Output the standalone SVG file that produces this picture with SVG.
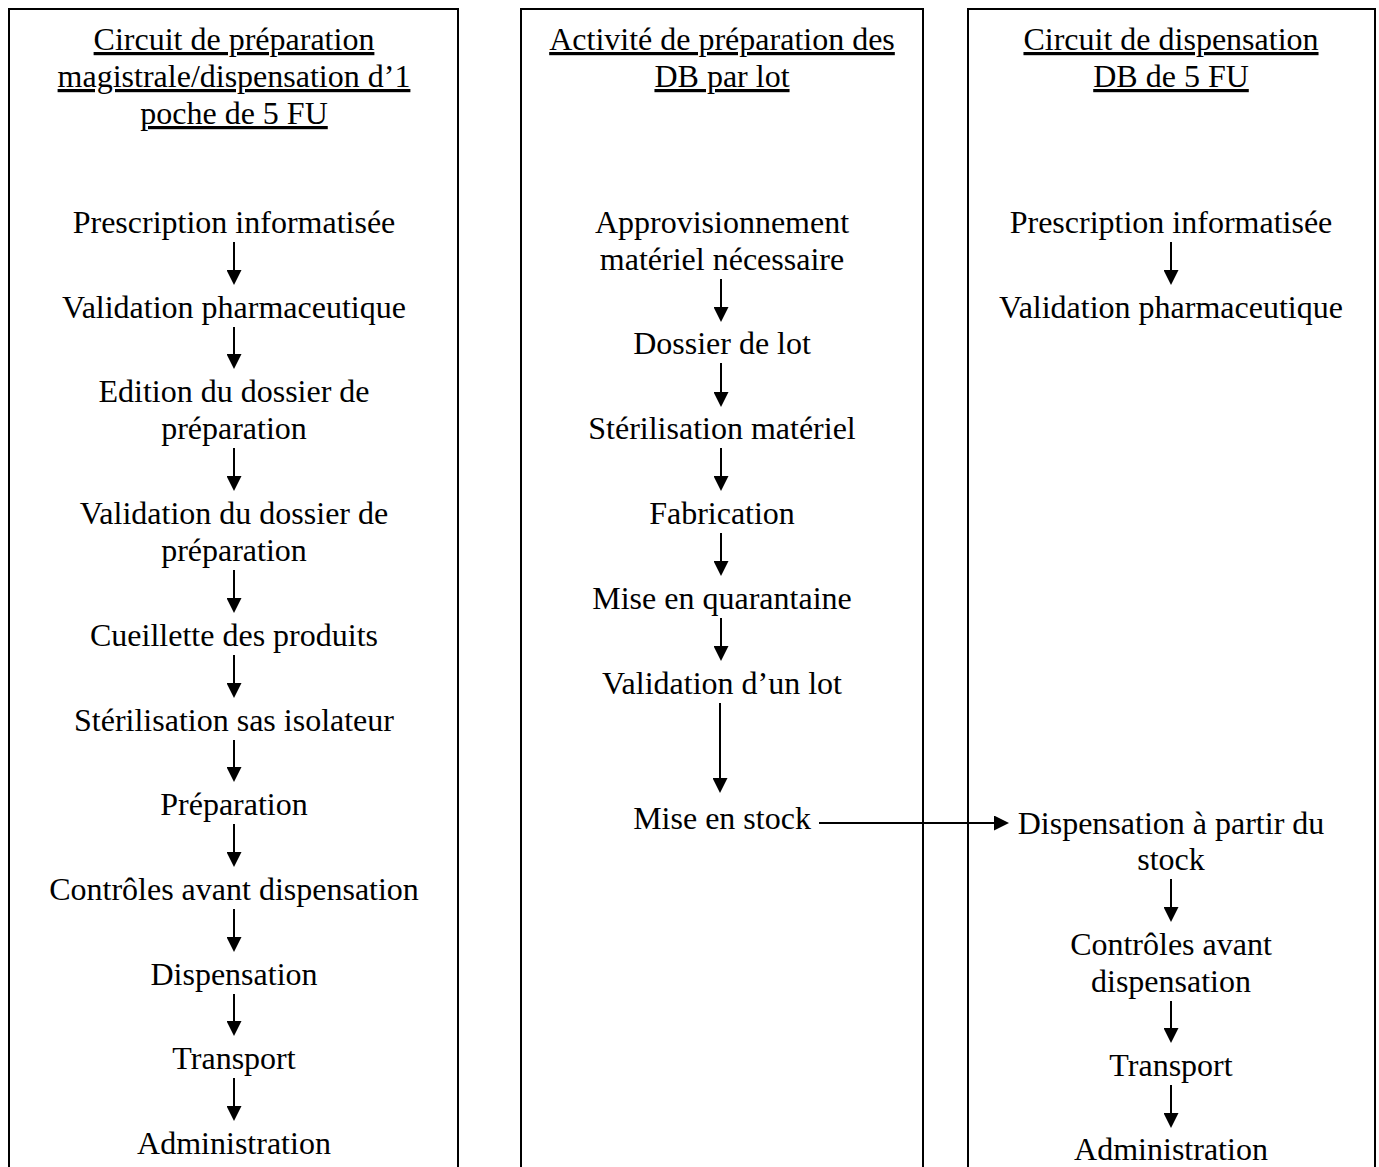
<svg xmlns="http://www.w3.org/2000/svg" width="1379" height="1167" viewBox="0 0 1379 1167">
<style>
text{font-family:"Liberation Serif","Times New Roman",serif;font-size:32px;fill:#000;text-anchor:middle}
.h{text-decoration:underline;text-underline-offset:6px;text-decoration-thickness:2px}
.box{fill:none;stroke:#000;stroke-width:2}
.c line{stroke:#000;stroke-width:2}
</style>
<defs>
<marker id="ah" markerUnits="userSpaceOnUse" viewBox="0 0 15 15" markerWidth="15" markerHeight="15" refX="10" refY="7.5" orient="auto">
<path d="M0,0 L15,7.5 L0,15 z" fill="#000"/>
</marker>
</defs>
<rect width="1379" height="1167" fill="#fff"/>
<g id="col1">
<path class="box" d="M9,1168 V9 H458 V1168"/>
<text class="h" x="234" y="50">Circuit de préparation</text>
<text class="h" x="234" y="87">magistrale/dispensation d’1</text>
<text class="h" x="234" y="124">poche de 5 FU</text>
</g>
<g id="col2">
<path class="box" d="M521,1168 V9 H923 V1168"/>
<text class="h" x="722" y="50">Activité de préparation des</text>
<text class="h" x="722" y="87">DB par lot</text>
</g>
<g id="col3">
<path class="box" d="M968,1168 V9 H1375 V1168"/>
<text class="h" x="1171" y="50">Circuit de dispensation</text>
<text class="h" x="1171" y="87">DB de 5 FU</text>
</g>
<g id="n1a"><text x="234" y="233">Prescription informatisée</text></g>
<g id="n1b"><text x="234" y="318">Validation pharmaceutique</text></g>
<g id="n1c"><text x="234" y="402">Edition du dossier de</text><text x="234" y="439">préparation</text></g>
<g id="n1d"><text x="234" y="524">Validation du dossier de</text><text x="234" y="561">préparation</text></g>
<g id="n1e"><text x="234" y="646">Cueillette des produits</text></g>
<g id="n1f"><text x="234" y="731">Stérilisation sas isolateur</text></g>
<g id="n1g"><text x="234" y="815">Préparation</text></g>
<g id="n1h"><text x="234" y="900">Contrôles avant dispensation</text></g>
<g id="n1i"><text x="234" y="985">Dispensation</text></g>
<g id="n1j"><text x="234" y="1069">Transport</text></g>
<g id="n1k"><text x="234" y="1154">Administration</text></g>
<g id="n2a"><text x="722" y="233">Approvisionnement</text><text x="722" y="270">matériel nécessaire</text></g>
<g id="n2b"><text x="722" y="354">Dossier de lot</text></g>
<g id="n2c"><text x="722" y="439">Stérilisation matériel</text></g>
<g id="n2d"><text x="722" y="524">Fabrication</text></g>
<g id="n2e"><text x="722" y="609">Mise en quarantaine</text></g>
<g id="n2f"><text x="722" y="694">Validation d’un lot</text></g>
<g id="n2g"><text x="722" y="829">Mise en stock</text></g>
<g id="n3a"><text x="1171" y="233">Prescription informatisée</text></g>
<g id="n3b"><text x="1171" y="318">Validation pharmaceutique</text></g>
<g id="n3c"><text x="1171" y="834">Dispensation à partir du</text><text x="1171" y="870">stock</text></g>
<g id="n3d"><text x="1171" y="955">Contrôles avant</text><text x="1171" y="992">dispensation</text></g>
<g id="n3e"><text x="1171" y="1076">Transport</text></g>
<g id="n3f"><text x="1171" y="1160">Administration</text></g>
<g id="connectors" class="c">
<line x1="234" y1="242" x2="234" y2="280" marker-end="url(#ah)"/>
<line x1="234" y1="327" x2="234" y2="364" marker-end="url(#ah)"/>
<line x1="234" y1="448" x2="234" y2="486" marker-end="url(#ah)"/>
<line x1="234" y1="570" x2="234" y2="608" marker-end="url(#ah)"/>
<line x1="234" y1="655" x2="234" y2="693" marker-end="url(#ah)"/>
<line x1="234" y1="740" x2="234" y2="777" marker-end="url(#ah)"/>
<line x1="234" y1="824" x2="234" y2="862" marker-end="url(#ah)"/>
<line x1="234" y1="909" x2="234" y2="947" marker-end="url(#ah)"/>
<line x1="234" y1="994" x2="234" y2="1031" marker-end="url(#ah)"/>
<line x1="234" y1="1078" x2="234" y2="1116" marker-end="url(#ah)"/>
<line x1="721" y1="279" x2="721" y2="317" marker-end="url(#ah)"/>
<line x1="721" y1="363" x2="721" y2="402" marker-end="url(#ah)"/>
<line x1="721" y1="448" x2="721" y2="486" marker-end="url(#ah)"/>
<line x1="721" y1="533" x2="721" y2="571" marker-end="url(#ah)"/>
<line x1="721" y1="618" x2="721" y2="656" marker-end="url(#ah)"/>
<line x1="720" y1="703" x2="720" y2="788" marker-end="url(#ah)"/>
<line x1="819" y1="823" x2="1004" y2="823" marker-end="url(#ah)"/>
<line x1="1171" y1="242" x2="1171" y2="280" marker-end="url(#ah)"/>
<line x1="1171" y1="879" x2="1171" y2="917" marker-end="url(#ah)"/>
<line x1="1171" y1="1001" x2="1171" y2="1038" marker-end="url(#ah)"/>
<line x1="1171" y1="1085" x2="1171" y2="1123" marker-end="url(#ah)"/>
</g>
</svg>
